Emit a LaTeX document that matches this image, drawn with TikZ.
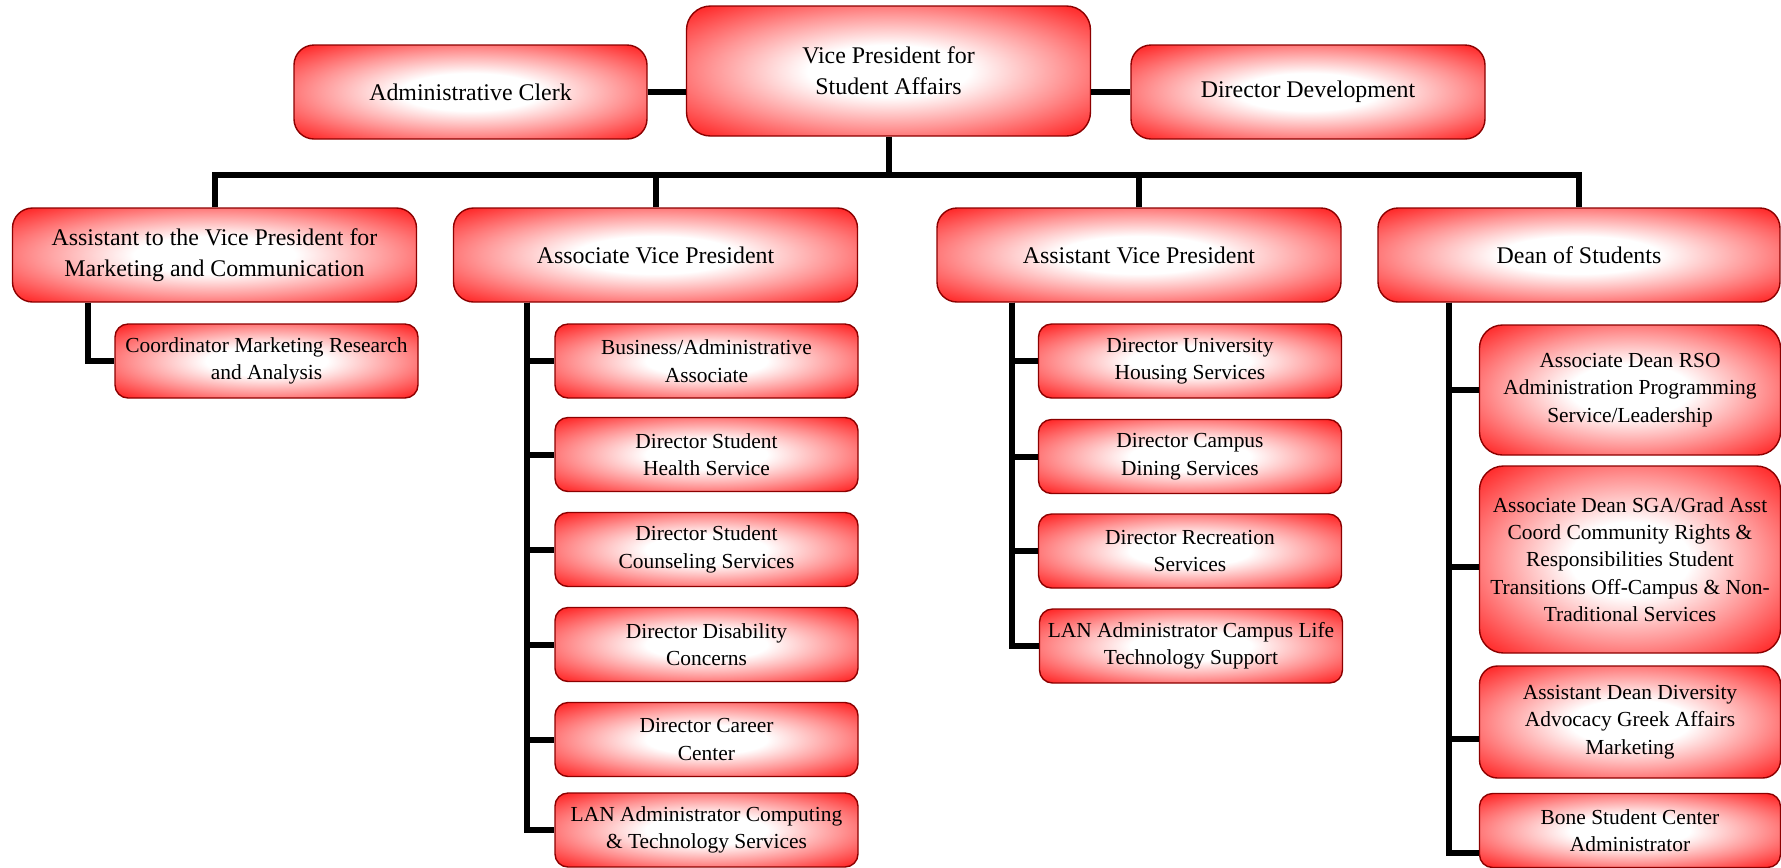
\documentclass[tikz,border=0pt]{standalone}
\usepackage{fontspec}
\setmainfont{Liberation Serif}
\usetikzlibrary{calc}
\definecolor{boxred}{RGB}{255,20,20}
\definecolor{boxrim}{RGB}{140,0,0}
\pgfdeclareradialshading{redglow}{\pgfpoint{0bp}{0bp}}{color(0bp)=(white); color(10bp)=(white); color(22bp)=(boxred!45!white); color(36bp)=(boxred); color(100bp)=(boxred)}

\begin{document}
\begin{tikzpicture}[x=0.1mm,y=-0.1mm,
  post/.style={draw=boxrim,line width=0.4pt,shade,shading=redglow,align=center,inner sep=0pt,rounded corners=2mm},
  big/.style={post,minimum width=40.4mm,minimum height=9.4mm,font=\fontsize{6.8}{8.8}\selectfont},
  small/.style={post,minimum width=30.3mm,minimum height=7.4mm,rounded corners=1.3mm,font=\fontsize{6.1}{7.8}\selectfont},
  link/.style={line width=0.6mm}]
\useasboundingbox (0,0) rectangle (1781,867);

\node[big,minimum height=13mm,rounded corners=2.4mm] (vp) at (888.5,71) {Vice President for\\Student Affairs};
\node[big,minimum width=35.3mm] (clerk) at (470.5,92) {Administrative Clerk};
\node[big,minimum width=35.4mm] (devel) at (1308,92) {Director Development};

\node[big] (mktg) at (214.5,255) {Assistant to the Vice President for\\Marketing and Communication};
\node[big] (assocvp) at (655.5,255) {Associate Vice President};
\node[big] (asstvp) at (1139,255) {Assistant Vice President};
\node[big,minimum width=40.2mm] (dean) at (1579,255) {Dean of Students};

\node[small] (coord) at (266.5,361) {Coordinator Marketing Research\\and Analysis};

\node[small] (business) at (706.5,361) {Business/Administrative\\Associate};
\node[small] (health) at (706.5,454.5) {Director Student\\Health Service};
\node[small] (counsel) at (706.5,549.5) {Director Student\\Counseling Services};
\node[small] (disab) at (706.5,644.5) {Director Disability\\Concerns};
\node[small] (career) at (706.5,739.5) {Director Career\\Center};
\node[small] (lancomp) at (706.5,830) {LAN Administrator Computing\\\& Technology Services};

\node[small] (housing) at (1190,361) {Director University\\Housing Services};
\node[small] (dining) at (1190,456.5) {Director Campus\\Dining Services};
\node[small] (recreation) at (1190,551) {Director Recreation\\Services};
\node[small] (lanlife) at (1191,646) {LAN Administrator Campus Life\\Technology Support};

\node[small,minimum width=30.1mm,minimum height=13mm,rounded corners=2.3mm] (rso) at (1630,390) {Associate Dean RSO\\Administration Programming\\Service/Leadership};
\node[small,minimum width=30.1mm,minimum height=18.7mm,rounded corners=2.4mm] (sga) at (1630,559.5) {Associate Dean SGA/Grad Asst\\Coord Community Rights \&\\Responsibilities Student\\Transitions Off-Campus \& Non-\\Traditional Services};
\node[small,minimum width=30.1mm,minimum height=11.2mm,rounded corners=1.8mm] (divers) at (1630,722) {Assistant Dean Diversity\\Advocacy Greek Affairs\\Marketing};
\node[small,minimum width=30.1mm] (bone) at (1630,830.5) {Bone Student Center\\Administrator};

\coordinate (bus) at (888.5,175);
\draw[link] (clerk.east) -- (clerk.east -| vp.west);
\draw[link] (devel.west) -- (devel.west -| vp.east);
\draw[link] (vp.south) -- (bus);
\draw[link] (mktg.north) |- (bus) -| (dean.north);
\draw[link] (assocvp.north) -- (assocvp.north |- bus);
\draw[link] (asstvp.north) -- (asstvp.north |- bus);

\coordinate (mktg-s) at ([xshift=7.6mm]mktg.south west);
\coordinate (assocvp-s) at ([xshift=7.4mm]assocvp.south west);
\coordinate (asstvp-s) at ([xshift=7.6mm]asstvp.south west);
\coordinate (dean-s) at ([xshift=7.2mm]dean.south west);

\draw[link] (mktg-s) |- (coord.west);
\foreach \kid in {business,health,counsel,disab,career,lancomp}
  \draw[link] (assocvp-s) |- (\kid.west);
\foreach \kid in {housing,dining,recreation,lanlife}
  \draw[link] (asstvp-s) |- (\kid.west);
\draw[link] (dean-s) |- (rso.west);
\draw[link] (dean-s) |- ([yshift=-0.7mm]sga.west);
\draw[link] (dean-s) |- ([yshift=-1.7mm]divers.west);
\draw[link] (dean-s) |- ([yshift=-2.2mm]bone.west);
\end{tikzpicture}
\end{document}
